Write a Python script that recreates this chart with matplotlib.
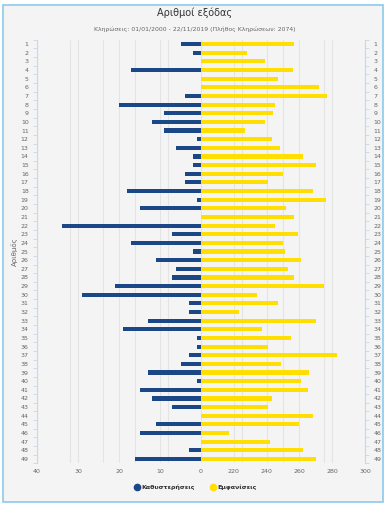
import matplotlib
matplotlib.use("Agg")
import matplotlib.pyplot as plt
import matplotlib.transforms as mtransforms
from matplotlib.patches import Rectangle
from matplotlib.lines import Line2D
import numpy as np

# --- data -----------------------------------------------------------------

numbers = list(range(1, 50))
delays = [5, 2, 0, 17, 0, 0, 4, 20, 9, 12,
          9, 1, 6, 2, 2, 4, 4, 18, 1, 15,
          0, 34, 7, 17, 2, 11, 6, 7, 21, 29,
          3, 3, 13, 19, 1, 1, 3, 5, 13, 1,
          15, 12, 7, 0, 11, 15, 0, 3, 16]
appearances = [257, 228, 239, 256, 247, 272, 277, 245, 244, 239,
               227, 243, 248, 262, 270, 250, 241, 268, 276, 252,
               257, 245, 259, 250, 251, 261, 253, 257, 275, 234,
               247, 223, 270, 237, 255, 241, 283, 249, 266, 261,
               265, 243, 241, 268, 260, 217, 242, 262, 270]

title = "Αριθμοί εξόδας"
subtitle = "Κληρώσεις: 01/01/2000 - 22/11/2019 (Πλήθος Κληρώσεων: 2074)"
y_label = "Αριθμός"
series_names = ["Καθυστερήσεις", "Εμφανίσεις"]

delay_grid = list(range(40, -41, -10))
appear_grid = list(range(100, 301, 20))
appear_labels = [220, 240, 260, 280, 300]

BLUE = "#1c4786"
YELLOW = "#ffde00"
GRID = "#e4e4e4"
AXIS = "#ccd6eb"
TXT = "#666666"

W, H = 390, 509
fig = plt.figure(figsize=(W / 100, H / 100), dpi=100, facecolor="white")

# chart frame
fig.patches.append(Rectangle((3 / W, 7 / H), 380 / W, 497 / H,
                             transform=fig.transFigure, facecolor="#f4f4f4",
                             edgecolor="#8ccbea", linewidth=1.2, zorder=-5))

ax = fig.add_axes([37 / W, 1 - 463.3 / H, 328 / W, 423.5 / H])
ax.patch.set_visible(False)

# delay axis: reversed, 0 in the middle
ax.set_xlim(40, -40)
ax.set_ylim(49.5, 0.5)
ax.barh(numbers, delays, height=0.48, color=BLUE, zorder=3)

ax.set_xticks(delay_grid)
ax.set_xticklabels([str(v) if v >= 0 else "" for v in delay_grid])
ax.grid(axis="x", color=GRID, linewidth=0.8, zorder=0)
ax.tick_params(axis="x", length=0, labelsize=4.5, labelcolor=TXT, pad=4)

# appearances axis on a twin scale
tw = ax.twiny()
tw.set_xlim(100, 300)
tw.xaxis.tick_bottom()
tw.set_xticks(appear_grid)
tw.set_xticklabels([str(v) if v in appear_labels else "" for v in appear_grid])
tw.tick_params(axis="x", length=0, labelsize=4.5, labelcolor=TXT, pad=4)
tw.barh(numbers, [a - 200 for a in appearances], left=200, height=0.48,
        color=YELLOW, zorder=3)

# grid lines of the twin scale, drawn underneath the bars
blend = mtransforms.blended_transform_factory(tw.transData, ax.transAxes)
ax.vlines(appear_grid, 0, 1, transform=blend, color=GRID, linewidth=0.8, zorder=0)

for a in (ax, tw):
    for s in a.spines.values():
        s.set_visible(False)
ax.spines["left"].set_visible(True)
ax.spines["right"].set_visible(True)
ax.spines["left"].set_color(AXIS)
ax.spines["right"].set_color(AXIS)
ax.spines["left"].set_linewidth(0.8)
ax.spines["right"].set_linewidth(0.8)

# category labels both sides, tick marks between categories
ax.set_yticks(numbers)
ax.set_yticklabels([str(n) for n in numbers])
ax.set_yticks(np.arange(0.5, 50, 1), minor=True)
ax.tick_params(axis="y", which="major", length=0, labelsize=4.5,
               labelcolor=TXT, labelleft=True, labelright=True, pad=6)
ax.tick_params(axis="y", which="minor", left=True, right=True, length=3,
               color=AXIS, width=0.6)

ax.set_ylabel(y_label, fontsize=5, color=TXT, labelpad=2)

fig.text(0.5, 1 - 13 / H, title, ha="center", va="center", fontsize=7,
         color="#333333")
fig.text(0.5, 1 - 29 / H, subtitle, ha="center", va="center", fontsize=4.4,
         color=TXT)

handles = [Line2D([], [], marker="o", linestyle="none", markersize=4.5,
                  markerfacecolor=c, markeredgecolor=c) for c in (BLUE, YELLOW)]
leg = fig.legend(handles, series_names, loc="center", ncol=2,
                 bbox_to_anchor=(0.5, 1 - 487 / H), frameon=False,
                 handletextpad=0.2, columnspacing=2.5, handlelength=1,
                 prop={"size": 4.5, "weight": "bold"})
for t in leg.get_texts():
    t.set_color("#333333")

fig.savefig("out.png", dpi=100, facecolor="white")
